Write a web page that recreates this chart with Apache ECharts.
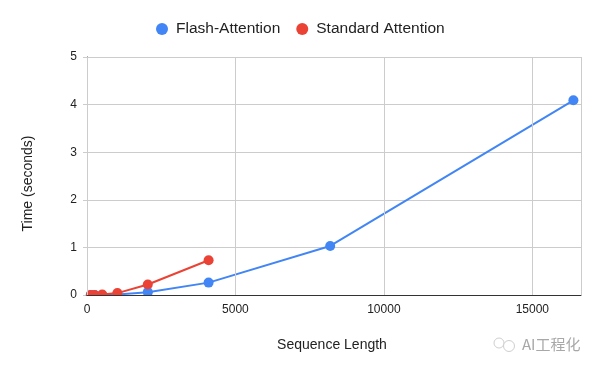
<!DOCTYPE html>
<html><head><meta charset="utf-8">
<style>html,body{margin:0;padding:0;background:#fff}#c{width:600px;height:371px}</style>
<script src="https://cdn.jsdelivr.net/npm/echarts@6/dist/echarts.min.js"></script>
</head><body><div id="c"></div>
<script>
const flashLengths = [128, 256, 512, 1024, 2048, 4096, 8192, 16384];
const flashTimes = [0.0, 0.0, 0.0, 0.01, 0.06, 0.26, 1.03, 4.09];
const standardLengths = [128, 256, 512, 1024, 2048, 4096];
const standardTimes = [0.0, 0.0, 0.01, 0.04, 0.22, 0.73];
const seriesNames = ['Flash-Attention', 'Standard Attention'];
const xTitle = 'Sequence Length';
const yTitle = 'Time (seconds)';
const watermark = 'AI工程化';
const font = 'Liberation Sans';
const zip = (a, b) => a.map((v, i) => [v, b[i]]);
const mk = (name, xs, ys, color) => ({
  name, type: 'line', data: zip(xs, ys), color,
  symbol: 'circle', symbolSize: 10, showSymbol: true,
  lineStyle: { width: 2, color }, itemStyle: { color }
});
const chart = echarts.init(document.getElementById('c'), null, { renderer: 'canvas' });
chart.setOption({
  animation: false,
  backgroundColor: '#fff',
  textStyle: { fontFamily: font },
  legend: {
    top: 16, left: 151,
    icon: 'circle', itemWidth: 12, itemHeight: 12, itemGap: 16,
    textStyle: { fontSize: 15.5, color: '#222', fontFamily: font, padding: [0, 0, 0, 3] },
    data: seriesNames
  },
  grid: { left: 87, right: 19, top: 57, bottom: 76 },
  xAxis: {
    type: 'value', min: 0, max: 16640, interval: 5000, z: 30,
    name: xTitle, nameLocation: 'middle', nameGap: 43,
    nameTextStyle: { fontSize: 14, color: '#222', fontFamily: font, padding: [0, 4, 0, 0] },
    axisLine: { show: true, onZero: false, lineStyle: { color: '#333', width: 1 } },
    axisTick: { show: false },
    axisLabel: { fontSize: 12, color: '#222', margin: 9, fontFamily: font, showMaxLabel: false,
      formatter: v => String(v) },
    splitLine: { show: true, lineStyle: { color: '#ccc', width: 1 } }
  },
  yAxis: {
    type: 'value', min: 0, max: 5, interval: 1,
    name: yTitle, nameLocation: 'middle', nameGap: 52, nameRotate: 90,
    nameTextStyle: { fontSize: 14, color: '#222', fontFamily: font, padding: [0, 15, 0, 0] },
    axisLine: { show: true, lineStyle: { color: '#333', width: 1 } },
    axisTick: { show: true, length: 4, lineStyle: { color: '#ccc', width: 1 } },
    axisLabel: { fontSize: 12, color: '#222', margin: 10, fontFamily: font },
    splitLine: { show: true, lineStyle: { color: '#ccc', width: 1 } }
  },
  graphic: [
    { type: 'rect', z: 20, shape: { x: 80, y: 296, width: 520, height: 6 }, style: { fill: '#fff' } },
    { type: 'text', left: 522, top: 337, style: { text: watermark, fontSize: 15, fill: '#a8a8a8', fontFamily: 'Noto Sans CJK SC' } },
    { type: 'circle', shape: { cx: 499, cy: 343, r: 5 }, style: { fill: 'none', stroke: '#cfcfcf', lineWidth: 1 } },
    { type: 'circle', shape: { cx: 509, cy: 346, r: 5.5 }, style: { fill: '#fff', stroke: '#cfcfcf', lineWidth: 1 } }
  ],
  series: [
    mk(seriesNames[0], flashLengths, flashTimes, '#4285f4'),
    mk(seriesNames[1], standardLengths, standardTimes, '#ea4335')
  ]
});
</script></body></html>
